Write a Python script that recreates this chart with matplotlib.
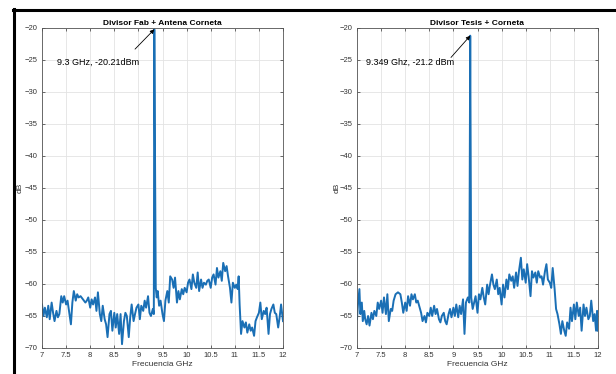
import matplotlib
matplotlib.use("Agg")
import matplotlib.pyplot as plt
from matplotlib.lines import Line2D

plt.rcParams['font.family'] = ['Liberation Sans', 'DejaVu Sans']

# Divisor Fab + Antena Corneta
freq_fab = [7.00, 7.03, 7.06, 7.10, 7.13, 7.16, 7.20, 7.23, 7.26, 7.30, 7.33, 7.36, 7.40, 7.43,
            7.46, 7.50, 7.53, 7.56, 7.60, 7.63, 7.66, 7.70, 7.73, 7.76, 7.80, 7.85, 7.90, 7.93,
            7.96, 8.00, 8.03, 8.06, 8.10, 8.13, 8.16, 8.20, 8.23, 8.26, 8.30, 8.33, 8.36, 8.40,
            8.43, 8.46, 8.50, 8.53, 8.56, 8.60, 8.63, 8.66, 8.70, 8.73, 8.76, 8.80, 8.83, 8.86,
            8.90, 8.93, 8.96, 9.00, 9.03, 9.06, 9.10, 9.13, 9.16, 9.20, 9.23, 9.26, 9.30, 9.32,
            9.33, 9.36, 9.38, 9.40, 9.43, 9.46, 9.50, 9.53, 9.56, 9.60, 9.63, 9.66, 9.70, 9.73,
            9.76, 9.80, 9.83, 9.86, 9.90, 9.93, 9.96, 10.00, 10.03, 10.06, 10.10, 10.13, 10.16,
            10.20, 10.23, 10.26, 10.30, 10.33, 10.36, 10.40, 10.43, 10.46, 10.50, 10.53, 10.56,
            10.60, 10.63, 10.66, 10.70, 10.73, 10.76, 10.80, 10.83, 10.86, 10.90, 10.93, 10.96,
            11.00, 11.03, 11.06, 11.08, 11.10, 11.13, 11.16, 11.20, 11.23, 11.26, 11.30, 11.33,
            11.36, 11.40, 11.43, 11.46, 11.50, 11.53, 11.56, 11.60, 11.63, 11.66, 11.70, 11.73,
            11.76, 11.80, 11.83, 11.86, 11.90, 11.93, 11.96, 12.00]
db_fab = [-63.2, -65.0, -63.7, -65.2, -63.4, -65.5, -62.9, -64.5, -65.8, -64.2, -65.2, -64.7, -61.9, -62.9,
          -61.9, -63.2, -62.6, -64.2, -66.3, -62.9, -61.1, -62.6, -61.6, -62.1, -61.9, -62.4, -62.9, -62.6,
          -62.1, -63.7, -62.4, -63.2, -62.1, -64.2, -61.3, -64.7, -65.8, -63.4, -65.5, -66.3, -68.3, -64.7,
          -64.2, -67.3, -64.5, -66.8, -64.7, -67.8, -64.7, -69.4, -65.8, -64.5, -65.0, -68.3, -65.2, -63.2,
          -65.8, -64.7, -63.7, -63.2, -65.5, -63.4, -64.2, -62.6, -63.7, -61.9, -64.5, -65.0, -63.9, -64.7,
          -20.21, -60.6, -62.1, -61.1, -63.4, -62.6, -64.7, -65.8, -62.6, -61.1, -62.9, -58.8, -59.3, -60.6,
          -59.0, -62.9, -61.1, -62.4, -60.8, -61.6, -60.6, -61.3, -59.8, -59.3, -60.8, -58.5, -59.8,
          -60.6, -58.2, -61.1, -59.3, -60.6, -59.8, -60.1, -59.5, -59.3, -60.6, -59.0, -58.5,
          -60.1, -57.5, -59.0, -58.0, -59.5, -56.7, -58.0, -57.2, -58.8, -60.6, -62.9, -59.8,
          -60.6, -60.1, -60.8, -58.8, -63.2, -67.8, -65.8, -66.8, -66.0, -67.6, -66.3, -67.3,
          -66.8, -68.1, -65.8, -65.2, -64.5, -62.9, -65.5, -64.2, -64.7, -63.7, -67.8, -64.7,
          -63.9, -63.2, -64.5, -64.7, -66.8, -65.2, -63.2, -65.8]

# Divisor Tesis + Corneta
freq_tesis = [7.00, 7.02, 7.05, 7.07, 7.10, 7.12, 7.15, 7.17, 7.20, 7.23, 7.26, 7.30, 7.33, 7.36,
              7.40, 7.43, 7.46, 7.50, 7.53, 7.56, 7.60, 7.63, 7.66, 7.70, 7.73, 7.76, 7.80, 7.85,
              7.90, 7.93, 7.96, 8.00, 8.03, 8.06, 8.10, 8.13, 8.16, 8.20, 8.23, 8.26, 8.30, 8.33,
              8.36, 8.40, 8.43, 8.46, 8.50, 8.53, 8.56, 8.60, 8.63, 8.66, 8.70, 8.73, 8.76, 8.80,
              8.83, 8.86, 8.90, 8.93, 8.96, 9.00, 9.03, 9.06, 9.10, 9.13, 9.16, 9.20, 9.23, 9.26,
              9.30, 9.33, 9.349, 9.37, 9.40, 9.43, 9.46, 9.50, 9.53, 9.56, 9.60, 9.63, 9.66, 9.70,
              9.73, 9.76, 9.80, 9.83, 9.86, 9.90, 9.93, 9.96, 10.00, 10.03, 10.06, 10.10, 10.13,
              10.16, 10.20, 10.23, 10.26, 10.30, 10.33, 10.36, 10.40, 10.43, 10.46, 10.50, 10.53,
              10.56, 10.60, 10.63, 10.66, 10.70, 10.73, 10.76, 10.80, 10.83, 10.86, 10.90, 10.93,
              10.96, 11.00, 11.03, 11.06, 11.10, 11.13, 11.16, 11.20, 11.23, 11.26, 11.30, 11.33,
              11.36, 11.40, 11.43, 11.46, 11.50, 11.53, 11.56, 11.60, 11.63, 11.66, 11.70, 11.73,
              11.76, 11.80, 11.83, 11.86, 11.90, 11.93, 11.96, 11.98, 12.00]
db_tesis = [-65.5, -63.2, -60.8, -64.7, -62.9, -65.8, -64.2, -65.5, -66.3, -65.0, -66.5, -64.5, -65.5, -64.2,
            -65.0, -62.9, -63.9, -62.6, -64.5, -62.1, -64.7, -61.6, -65.8, -63.9, -64.2, -62.6, -61.6, -61.3,
            -61.6, -62.9, -64.5, -62.9, -64.2, -61.9, -63.4, -61.6, -62.4, -61.6, -62.9, -62.6, -63.7, -64.5,
            -65.8, -65.0, -66.0, -64.5, -65.0, -63.7, -65.0, -63.4, -64.7, -63.9, -65.5, -66.0, -65.0, -64.5,
            -65.8, -66.3, -64.7, -63.9, -65.2, -63.7, -65.0, -63.2, -65.2, -63.4, -64.7, -62.4, -67.8, -62.9,
            -62.1, -62.9, -21.2, -62.1, -63.9, -62.9, -61.9, -64.5, -61.6, -62.4, -60.6, -62.1, -63.2, -60.1,
            -61.6, -60.1, -58.5, -60.1, -60.8, -59.3, -61.6, -60.6, -63.2, -60.1, -62.1, -59.3, -60.8,
            -58.5, -59.5, -58.8, -60.6, -58.2, -60.3, -58.0, -55.9, -59.3, -57.7, -59.8, -56.9,
            -58.8, -61.9, -58.0, -59.0, -58.2, -59.8, -58.0, -59.0, -58.8, -60.1, -58.0, -56.9,
            -59.3, -59.8, -60.6, -57.5, -60.8, -63.9, -64.7, -66.3, -67.8, -65.8, -67.3, -68.1,
            -66.0, -67.0, -63.7, -65.8, -63.2, -65.5, -62.9, -65.0, -63.7, -67.3, -63.2, -65.0,
            -63.7, -65.5, -65.0, -62.6, -65.8, -64.7, -67.3, -64.2, -67.3]

titles = ["Divisor Fab + Antena Corneta", "Divisor Tesis + Corneta"]
notes = ["9.3 GHz, -20.21dBm", "9.349 Ghz, -21.2 dBm"]
xticks = [7, 7.5, 8, 8.5, 9, 9.5, 10, 10.5, 11, 11.5, 12]
xticklabels = ["7", "7.5", "8", "8.5", "9", "9.5", "10", "10.5", "11", "11.5", "12"]
yticks = [-70, -65, -60, -55, -50, -45, -40, -35, -30, -25, -20]

W, H = 616, 374
fig = plt.figure(figsize=(W / 100, H / 100), dpi=100)

# the black frame of the screenshot (left and top)
fig.add_artist(Line2D([13.5 / W, 13.5 / W], [0, 1 - 9 / H], color="black", lw=2.2,
                      transform=fig.transFigure))
fig.add_artist(Line2D([13 / W, 1], [1 - 9.5 / H, 1 - 9.5 / H], color="black", lw=2.2,
                      transform=fig.transFigure))

panels = [
    (42, 18, freq_fab, db_fab, (9.33, -20.21), (7.31, -25.3), (8.93, -23.3)),
    (357, 16, freq_tesis, db_tesis, (9.35, -21.2), (7.19, -25.3), (8.95, -24.6)),
]

for i, (left, lab_off, f, v, peak, txt, tail) in enumerate(panels):
    ax = fig.add_axes([left / W, 26 / H, 241 / W, 320 / H])
    ax.plot(f, v, color="#1a6fb5", lw=1.4)
    ax.set_xlim(7, 12)
    ax.set_ylim(-70, -20)
    ax.set_xticks(xticks)
    ax.set_xticklabels(xticklabels)
    ax.set_yticks(yticks)
    ax.grid(True, color="#e3e3e3", lw=0.6)
    ax.set_axisbelow(True)
    ax.tick_params(direction="in", length=2.5, width=0.5, labelsize=5.5, colors="#333333",
                   top=True, right=True, pad=3)
    for s in ax.spines.values():
        s.set_color("#555555")
        s.set_linewidth(0.6)
    ax.set_title(titles[i], fontsize=6, fontweight="bold", pad=2)
    ax.set_xlabel("Frecuencia GHz", fontsize=6, color="#333333", labelpad=1)
    ax.set_ylabel("dB", fontsize=6, color="#333333")
    ax.yaxis.set_label_coords(-lab_off / 241, 0.5)
    ax.text(txt[0], txt[1], notes[i], fontsize=6.5, va="center", ha="left")
    ax.annotate("", xy=peak, xytext=tail,
                arrowprops=dict(arrowstyle="-|>", color="black", lw=0.6,
                                mutation_scale=6, shrinkA=0, shrinkB=0))

fig.savefig("out.png", dpi=100)
